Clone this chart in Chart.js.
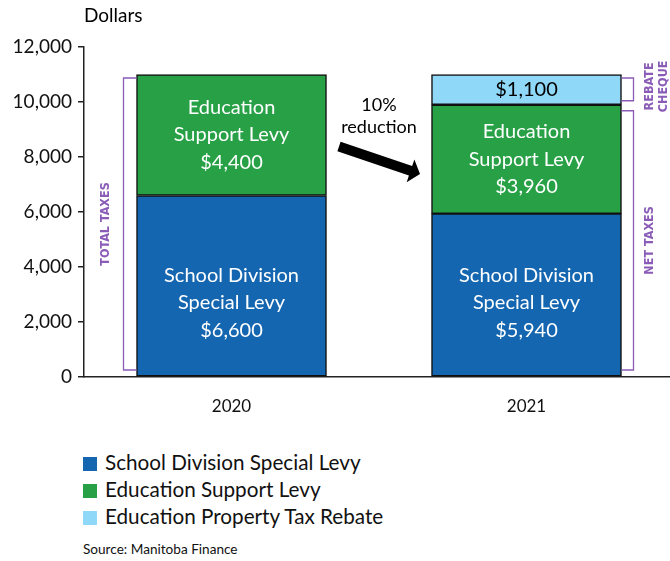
<!DOCTYPE html>
<html><head><meta charset="utf-8">
<script src="https://cdn.jsdelivr.net/npm/chart.js@4.4.1/dist/chart.umd.min.js"></script>
<style>
html,body{margin:0;padding:0;width:670px;height:561px;overflow:hidden;background:#fff;font-family:Lato,"Open Sans",sans-serif;}
#c{position:absolute;left:0;top:0;}
.leg{position:absolute;left:83px;font-size:20.7px;color:#111;line-height:27px;}
.leg div{height:27px;white-space:nowrap;}
.sw{display:inline-block;width:14px;height:14px;margin-right:8px;vertical-align:-1px;}
#src{position:absolute;left:83px;top:541px;font-size:13.6px;color:#111;}
</style></head><body>
<canvas id="c" width="700" height="417"></canvas>
<div class="leg" style="top:449px">
  <div><span class="sw" style="background:#1466B0"></span>School Division Special Levy</div>
  <div><span class="sw" style="background:#28A146"></span>Education Support Levy</div>
  <div><span class="sw" style="background:#8FD8F7"></span>Education Property Tax Rebate</div>
</div>
<div id="src">Source: Manitoba Finance</div>
<script>
const categories = ["2020", "2021"];
const schoolDivision = [6600, 5940];
const educationSupport = [4400, 3960];
const rebate = [0, 1100];
const yTicks = [0, 2000, 4000, 6000, 8000, 10000, 12000];
const seriesNames = ["School Division Special Levy", "Education Support Levy", "Education Property Tax Rebate"];
const barText = [
  [["School Division", "Special Levy"], ["School Division", "Special Levy"]],
  [["Education", "Support Levy"], ["Education", "Support Levy"]],
  [[], []]
];

const FONT = 'Lato, "Open Sans", sans-serif';
const PURPLE = '#8A5CB8';
const fmt = v => '$' + v.toLocaleString('en-US');

const annot = {
  id: 'annot',
  afterDatasetsDraw(chart) {
    const ctx = chart.ctx, y = chart.scales.y;
    ctx.save();
    chart.data.datasets.forEach((ds, di) => {
      const meta = chart.getDatasetMeta(di);
      meta.data.forEach((bar, i) => {
        const v = ds.data[i];
        if (!v) return;
        const top = Math.min(bar.y, bar.base), bot = Math.max(bar.y, bar.base);
        let cy = (top + bot) / 2;
        const lines = barText[di][i].concat([fmt(v)]);
        if (di === 0) cy = y.getPixelForValue(2690);
        ctx.fillStyle = di === 2 ? '#000' : '#fff';
        ctx.font = '20px ' + FONT;
        ctx.textAlign = 'center';
        ctx.textBaseline = 'middle';
        const lh = 27.5;
        const start = cy - (lines.length - 1) * lh / 2;
        lines.forEach((t, k) => ctx.fillText(t, bar.x, start + k * lh));
      });
    });
    const b0 = chart.getDatasetMeta(0).data[0];
    const b1 = chart.getDatasetMeta(0).data[1];
    const half = b0.width / 2;
    const total0 = schoolDivision[0] + educationSupport[0];
    const net1 = schoolDivision[1] + educationSupport[1];
    const total1 = net1 + rebate[1];
    ctx.strokeStyle = PURPLE;
    ctx.lineWidth = 1.3;
    const lx = b0.x - half, lbx = lx - 13;
    const yt0 = y.getPixelForValue(total0) + 3.5, yb0 = y.getPixelForValue(0) - 7;
    ctx.beginPath();
    ctx.moveTo(lx, yt0); ctx.lineTo(lbx, yt0); ctx.lineTo(lbx, yb0); ctx.lineTo(lx, yb0);
    ctx.stroke();
    const rx = b1.x + half, rbx = rx + 12;
    const yr1 = y.getPixelForValue(total1) + 3.5, yr2 = y.getPixelForValue(net1) - 4;
    ctx.beginPath();
    ctx.moveTo(rx, yr1); ctx.lineTo(rbx, yr1); ctx.lineTo(rbx, yr2); ctx.lineTo(rx, yr2);
    ctx.stroke();
    const yn1 = y.getPixelForValue(net1) + 6, yn2 = y.getPixelForValue(0) - 7;
    ctx.beginPath();
    ctx.moveTo(rx, yn1); ctx.lineTo(rbx, yn1); ctx.lineTo(rbx, yn2); ctx.lineTo(rx, yn2);
    ctx.stroke();
    ctx.fillStyle = PURPLE;
    ctx.font = 'bold 12.5px "DejaVu Sans Condensed", "Liberation Sans Narrow", sans-serif';
    ctx.textAlign = 'center';
    ctx.textBaseline = 'middle';
    const rot = (t, px, py) => { ctx.save(); ctx.translate(px, py); ctx.rotate(-Math.PI / 2); ctx.fillText(t, 0, 0); ctx.restore(); };
    rot('TOTAL TAXES', lbx - 18, (yt0 + yb0) / 2);
    rot('REBATE', rbx + 16, (yr1 + yr2) / 2 - 3);
    rot('CHEQUE', rbx + 30, (yr1 + yr2) / 2 - 3);
    rot('NET TAXES', rbx + 16, (yn1 + yn2) / 2);
    const mx = (b0.x + half + b1.x - half) / 2;
    ctx.fillStyle = '#000';
    ctx.font = '18px ' + FONT;
    ctx.fillText('10%', mx, y.getPixelForValue(9900));
    ctx.fillText('reduction', mx, y.getPixelForValue(9100));
    const ax0 = mx - 40, ay0 = y.getPixelForValue(8380);
    const ax1 = mx + 41, ay1 = y.getPixelForValue(7380);
    const ang = Math.atan2(ay1 - ay0, ax1 - ax0);
    const len = Math.hypot(ax1 - ax0, ay1 - ay0);
    ctx.save();
    ctx.translate(ax0, ay0); ctx.rotate(ang);
    ctx.beginPath();
    ctx.moveTo(0, -5); ctx.lineTo(len - 10, -5); ctx.lineTo(len - 10, -12);
    ctx.lineTo(len, 0); ctx.lineTo(len - 10, 12); ctx.lineTo(len - 10, 5); ctx.lineTo(0, 5);
    ctx.closePath(); ctx.fill();
    ctx.restore();
    ctx.textAlign = 'left';
    ctx.font = '19px ' + FONT;
    ctx.fillText('Dollars', 84, 16);
    ctx.restore();
  }
};

new Chart(document.getElementById('c'), {
  type: 'bar',
  data: {
    labels: categories,
    datasets: [
      { label: seriesNames[0], data: schoolDivision, backgroundColor: '#1466B0' },
      { label: seriesNames[1], data: educationSupport, backgroundColor: '#28A146' },
      { label: seriesNames[2], data: rebate, backgroundColor: '#8FD8F7' }
    ].map(d => Object.assign(d, { borderColor: '#111', borderWidth: 1.5, borderSkipped: false, barThickness: 190 }))
  },
  options: {
    responsive: false,
    animation: false,
    layout: { padding: { top: 47, left: 0, right: 26, bottom: 0 } },
    plugins: { legend: { display: false }, tooltip: { enabled: false } },
    scales: {
      x: {
        stacked: true,
        grid: { display: false },
        border: { color: '#222', width: 1.5 },
        ticks: { color: '#111', font: { size: 17, family: FONT }, padding: 11 },
        afterFit(s) { s.height = 40; }
      },
      y: {
        stacked: true,
        min: 0, max: 12000,
        afterBuildTicks(s) { s.ticks = yTicks.map(v => ({ value: v })); },
        grid: { drawOnChartArea: false, tickLength: 6, color: '#222', lineWidth: 1.5 },
        border: { color: '#222', width: 1.5 },
        ticks: { color: '#111', font: { size: 19, family: FONT }, padding: 6,
                 callback: v => v.toLocaleString('en-US') },
        afterFit(s) { s.width = 84; }
      }
    }
  },
  plugins: [annot]
});
</script>
</body></html>
